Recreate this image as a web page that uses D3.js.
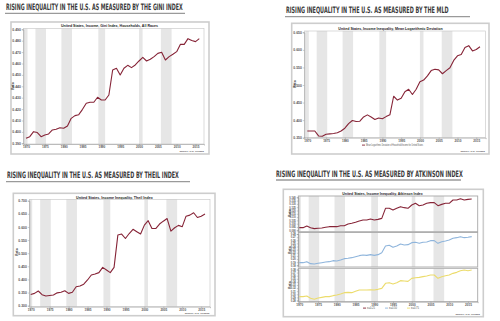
<!DOCTYPE html>
<html><head><meta charset="utf-8">
<script src="https://cdn.jsdelivr.net/npm/d3@7"></script>
<style>body{margin:0;background:#fff}svg{display:block}</style>
</head><body><svg id="c" width="500" height="321"></svg>
<script>
const years = d3.range(1970, 2017);
const giniValues = [0.3944,0.3958,0.4002,0.3994,0.3958,0.3973,0.3982,0.4017,0.4023,0.4037,0.4032,0.4052,0.4119,0.4143,0.4151,0.4198,0.4251,0.4260,0.4260,0.4304,0.4280,0.4280,0.4324,0.4543,0.4558,0.4499,0.4558,0.4584,0.4564,0.4587,0.4622,0.4654,0.4622,0.4637,0.4660,0.4689,0.4698,0.4631,0.4660,0.4681,0.4704,0.4768,0.4768,0.4818,0.4801,0.4792,0.4818];
const mldValues = [0.369,0.369,0.369,0.355,0.354,0.360,0.361,0.362,0.364,0.369,0.377,0.390,0.399,0.396,0.397,0.409,0.415,0.409,0.402,0.406,0.404,0.410,0.415,0.468,0.457,0.462,0.481,0.488,0.473,0.488,0.509,0.514,0.526,0.541,0.545,0.543,0.532,0.541,0.549,0.570,0.583,0.587,0.607,0.612,0.597,0.601,0.609];
const theilValues = [0.343,0.347,0.356,0.342,0.337,0.339,0.341,0.349,0.351,0.357,0.347,0.351,0.372,0.375,0.382,0.398,0.417,0.421,0.426,0.446,0.436,0.426,0.446,0.569,0.573,0.556,0.575,0.591,0.582,0.573,0.607,0.624,0.594,0.594,0.611,0.622,0.632,0.584,0.597,0.606,0.601,0.641,0.645,0.654,0.636,0.641,0.649];
const atk025 = [0.0940,0.0940,0.0965,0.0940,0.0925,0.0930,0.0935,0.0945,0.0955,0.0955,0.0955,0.0970,0.0970,0.0995,0.1006,0.1021,0.1041,0.1056,0.1056,0.1071,0.1056,0.1066,0.1081,0.1233,0.1233,0.1208,0.1233,0.1258,0.1243,0.1233,0.1283,0.1309,0.1273,0.1283,0.1309,0.1319,0.1319,0.1273,0.1293,0.1309,0.1309,0.1359,0.1359,0.1379,0.1359,0.1369,0.1374];
const atk050 = [0.1884,0.1884,0.1916,0.1852,0.1842,0.1863,0.1884,0.1905,0.1916,0.1948,0.1937,0.1969,0.2012,0.2023,0.2044,0.2076,0.2108,0.2129,0.2118,0.2140,0.2118,0.2140,0.2204,0.2417,0.2438,0.2374,0.2417,0.2481,0.2449,0.2459,0.2523,0.2534,0.2502,0.2534,0.2544,0.2587,0.2587,0.2502,0.2555,0.2576,0.2608,0.2662,0.2683,0.2715,0.2683,0.2694,0.2715];
const atk075 = [0.2924,0.2924,0.2945,0.2870,0.2838,0.2881,0.2902,0.2924,0.2924,0.2956,0.2977,0.3010,0.3053,0.3063,0.3053,0.3096,0.3139,0.3139,0.3139,0.3149,0.3139,0.3160,0.3192,0.3354,0.3375,0.3332,0.3375,0.3440,0.3429,0.3418,0.3515,0.3536,0.3547,0.3569,0.3590,0.3622,0.3622,0.3515,0.3569,0.3601,0.3622,0.3676,0.3708,0.3762,0.3784,0.3762,0.3784];
const recessions = [[1969.5,1970.4],[1972.5,1975.3],[1979.4,1982.2],[1989.2,1991.0],[2000.0,2000.95],[2005.8,2008.65]];
const xTicks = [1970,1975,1980,1985,1990,1995,2000,2005,2010,2015];
const giniTicks = [0.39,0.40,0.41,0.42,0.43,0.44,0.45,0.46,0.47,0.48,0.49];
const mldTicks = [0.35,0.40,0.45,0.50,0.55,0.60,0.65];
const theilTicks = [0.30,0.35,0.40,0.45,0.50,0.55,0.60,0.65,0.70];
const atk025Ticks = [0.090,0.095,0.100,0.105,0.110,0.115,0.120,0.125,0.130,0.135,0.140];
const atk050Ticks = [0.18,0.19,0.20,0.21,0.22,0.23,0.24,0.25,0.26,0.27,0.28];
const atk075Ticks = [0.28,0.29,0.30,0.31,0.32,0.33,0.34,0.35,0.36,0.37,0.38];
const headlines = ["RISING INEQUALITY IN THE U.S. AS MEASURED BY THE GINI INDEX","RISING INEQUALITY IN THE U.S. AS MEASURED BY THE MLD","RISING INEQUALITY IN THE U.S. AS MEASURED BY THEIL INDEX","RISING INEQUALITY IN THE U.S. AS MEASURED BY ATKINSON INDEX"];
const chartTitles = ["United States, Income, Gini Index, Households, All Races","United States, Income Inequality, Mean Logarithmic Deviation","United States, Income Inequality, Theil Index","United States, Income Inequality, Atkinson Index"];

const RED = "#862437", BLUE = "#8fb5dc", YEL = "#ecdc6c";
const svg = d3.select("#c");

const panels = [
 {head:headlines[0], hx:[6,183], hy:10.2, ul:[5,185,13.3], frame:[11,22,209,154], ct:chartTitles[0], ctx:[61,158], cty:26.6,
  L:23.3, R:204, xd:[1969.28,2017.25], src:[204,151.8], ylab:[14,86],
  subs:[{vals:giniValues, col:RED, dom:[0.39,0.49], rng:[143.3,29.3], top:28.5, bot:144, ticks:giniTicks, fmt:".3f"}]},
 {head:headlines[1], hx:[286,449], hy:13.3, ul:[285,470,16.7], frame:[291.7,23.3,489,154], ct:chartTitles[1], ctx:[338.3,442.7], cty:29.8,
  L:304.3, R:485.7, xd:[1969.2,2017.52], src:[485,151.5], ylab:[296,84], legend:{y:146,items:[{t:"Mean Logarithmic Deviation of Household Income for United States",c:RED}], x0:362, w:57},
  subs:[{vals:mldValues, col:RED, dom:[0.35,0.65], rng:[137.7,32.3], top:31, bot:137.7, ticks:mldTicks, fmt:".3f"}]},
 {head:headlines[2], hx:[7,179], hy:178.3, ul:[6,190,181.7], frame:[13.3,193.3,215,315.7], ct:chartTitles[2], ctx:[76,152.7], cty:198.6,
  L:29.3, R:210, xd:[1969.63,2017.32], src:[209.3,314.4], ylab:[17.5,252],
  subs:[{vals:theilValues, col:RED, dom:[0.30,0.70], rng:[305.7,200.7], top:199.3, bot:306.7, ticks:theilTicks, fmt:".3f"}]},
 {head:headlines[3], hx:[276,462.7], hy:177.3, ul:[276,461,180], frame:[283.3,189.3,483.3,316.7], ct:chartTitles[3], ctx:[342.3,422.7], cty:194.8,
  L:298.3, R:477.7, xd:[1969.73,2017.6], src:[480,314.6], ylab:null,
  legend:{y:309,items:[{t:"e=0.25",c:RED},{t:"e=0.50",c:BLUE},{t:"e=0.75",c:YEL}], x0:363, w:10, gap:8},
  subs:[
   {vals:atk025, col:RED, dom:[0.09,0.14], rng:[230.3,197.3], top:196, bot:231.7, ticks:atk025Ticks, fmt:".3f", ylab:[290.5,213]},
   {vals:atk050, col:BLUE, dom:[0.18,0.28], rng:[265.3,234], top:232.5, bot:267, ticks:atk050Ticks, fmt:".2f", ylab:[290.5,250]},
   {vals:atk075, col:YEL, dom:[0.28,0.38], rng:[300.5,269.5], top:268.3, bot:301.7, ticks:atk075Ticks, fmt:".2f", ylab:[290.5,285]}]}
];

function fitText(sel, x0, x1, y) {
  const w = sel.node().getComputedTextLength();
  sel.attr("x", 0).attr("y", 0)
     .attr("transform", `translate(${x0},${y}) scale(${(x1 - x0) / w},1)`);
}

panels.forEach(p => {
  const g = svg.append("g");
  const h = g.append("text").text(p.head)
    .style("font-family","'Liberation Sans Narrow','DejaVu Sans Condensed',sans-serif")
    .style("font-weight","bold").style("font-size","8.8px").style("fill","#3a3a3a");
  fitText(h, p.hx[0], p.hx[1], p.hy);
  g.append("line").attr("x1",p.ul[0]).attr("x2",p.ul[1]).attr("y1",p.ul[2]).attr("y2",p.ul[2])
    .attr("stroke","#9a9a9a").attr("stroke-width",1.3);
  const [fx0,fy0,fx1,fy1] = p.frame;
  g.append("rect").attr("x",fx0).attr("y",fy0).attr("width",fx1-fx0).attr("height",fy1-fy0)
    .attr("fill","#fff").attr("stroke","#cdcdcd").attr("stroke-width",1.6);
  const ct = g.append("text").text(p.ct)
    .style("font-family","'Liberation Sans',Arial,sans-serif").style("font-weight","bold")
    .style("font-size","4.2px").style("fill","#222");
  fitText(ct, p.ctx[0], p.ctx[1], p.cty);
  const x = d3.scaleLinear().domain(p.xd).range([p.L,p.R]);
  p.subs.forEach((s, si) => {
    const y = d3.scaleLinear().domain(s.dom).range(s.rng);
    const sg = g.append("g");
    recessions.forEach(r => {
      const a = Math.max(r[0], p.xd[0]), b = Math.min(r[1], p.xd[1]);
      if (b > a) sg.append("rect").attr("x",x(a)).attr("y",s.top).attr("width",x(b)-x(a))
        .attr("height",s.bot-s.top).attr("fill","#e6e6e6");
    });
    sg.append("rect").attr("x",p.L).attr("y",s.top).attr("width",p.R-p.L).attr("height",s.bot-s.top)
      .attr("fill","none").attr("stroke", p.subs.length>1 ? "#a8a8a8" : "#c4c4c4")
      .attr("stroke-width", p.subs.length>1 ? 0.9 : 0.6);
    const ya = sg.append("g").attr("transform",`translate(${p.L},0)`)
      .call(d3.axisLeft(y).tickValues(s.ticks).tickSize(1.5).tickPadding(1).tickFormat(d3.format(s.fmt)));
    ya.select(".domain").attr("stroke","#888").attr("stroke-width",0.5);
    ya.selectAll(".tick line").attr("stroke","#888").attr("stroke-width",0.4);
    ya.selectAll("text").style("font-family","'Liberation Sans',Arial,sans-serif")
      .style("font-size", p.subs.length>1 ? "2.6px" : "3.4px").style("fill","#555").style("font-weight","bold");
    const yl = s.ylab || p.ylab;
    if (yl) sg.append("text").attr("transform",`translate(${yl[0]},${yl[1]}) rotate(-90)`)
      .attr("text-anchor","middle").text("Ratio")
      .style("font-family","'Liberation Sans',Arial,sans-serif").style("font-size","3px").style("fill","#444").style("font-weight","bold");
    sg.append("path").datum(s.vals)
      .attr("d", d3.line().x((d,i)=>x(years[i])).y(d=>y(d)))
      .attr("fill","none").attr("stroke",s.col).attr("stroke-width",1.1).attr("stroke-linejoin","round");
  });
  const last = p.subs[p.subs.length-1];
  const xa = g.append("g").attr("transform",`translate(0,${last.bot})`)
    .call(d3.axisBottom(x).tickValues(xTicks).tickSize(1.5).tickPadding(0.6).tickFormat(d3.format("d")));
  xa.select(".domain").attr("stroke","#888").attr("stroke-width",0.5);
  xa.selectAll(".tick line").attr("stroke","#888").attr("stroke-width",0.4);
  xa.selectAll("text").style("font-family","'Liberation Sans',Arial,sans-serif")
    .style("font-size","3.1px").style("fill","#555").style("font-weight","bold");
  if (p.legend) {
    let cx = p.legend.x0;
    p.legend.items.forEach(it => {
      g.append("line").attr("x1",cx).attr("x2",cx+3).attr("y1",p.legend.y-0.9).attr("y2",p.legend.y-0.9)
        .attr("stroke",it.c).attr("stroke-width",0.9);
      const t = g.append("text").attr("x",cx+4).attr("y",p.legend.y).text(it.t)
        .style("font-family","'Liberation Sans',Arial,sans-serif").style("font-size","2.6px").style("fill","#555");
      if (p.legend.items.length === 1) t.attr("textLength",p.legend.w).attr("lengthAdjust","spacingAndGlyphs");
      cx += 4 + p.legend.w + (p.legend.gap||0);
    });
  }
  g.append("text").attr("x",p.src[0]).attr("y",p.src[1]).attr("text-anchor","end")
    .text("Source: U.S. Census").style("font-family","'Liberation Sans',Arial,sans-serif")
    .style("font-size","2.5px").style("fill","#555").style("font-weight","bold");
});
</script></body></html>
